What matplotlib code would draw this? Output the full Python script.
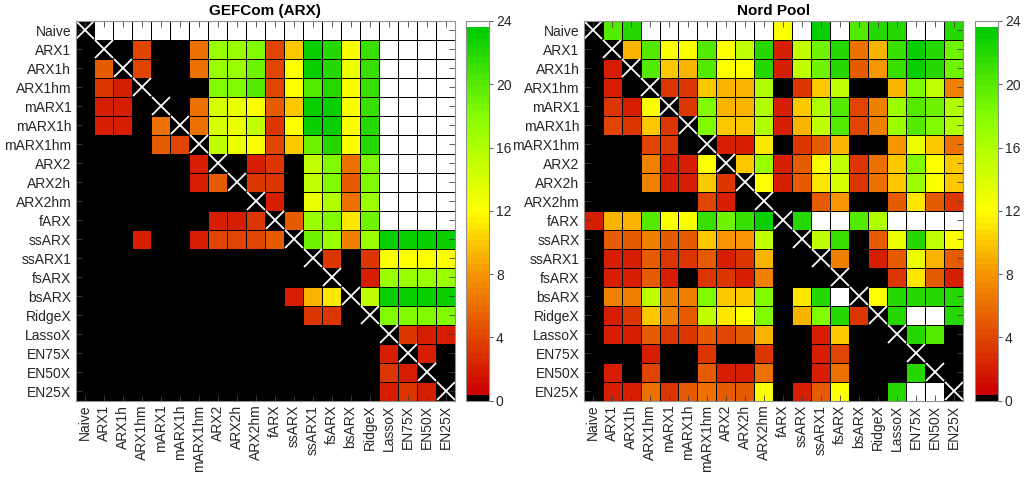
import numpy as np
import matplotlib
matplotlib.use("Agg")
import matplotlib.pyplot as plt
from matplotlib.colors import ListedColormap, Normalize

plt.rcParams['font.family'] = ['Liberation Sans', 'DejaVu Sans']

models = ["Naive", "ARX1", "ARX1h", "ARX1hm", "mARX1", "mARX1h", "mARX1hm",
          "ARX2", "ARX2h", "ARX2hm", "fARX", "ssARX", "ssARX1", "fsARX",
          "bsARX", "RidgeX", "LassoX", "EN75X", "EN50X", "EN25X"]

# number of hours (0-24) in which row model significantly outperforms column model
# diagonal entries are -1 (marked with X)
X = -1
gefcom = [
    [X, 24, 24, 24, 24, 24, 24, 24, 24, 24, 24, 24, 24, 24, 24, 24, 24, 24, 24, 24],
    [0, X, 0, 4, 0, 0, 6, 17, 17, 18, 4, 10, 23, 22, 12, 21, 24, 24, 24, 24],
    [0, 5, X, 4, 0, 0, 6, 17, 17, 19, 4, 12, 23, 22, 13, 21, 24, 24, 24, 24],
    [0, 3, 2, X, 0, 0, 0, 18, 18, 20, 4, 12, 20, 22, 12, 21, 24, 24, 24, 24],
    [0, 2, 2, 0, X, 0, 6, 14, 13, 12, 5, 10, 23, 23, 12, 21, 24, 24, 24, 24],
    [0, 2, 2, 0, 6, X, 6, 14, 13, 15, 3, 12, 23, 23, 12, 22, 24, 24, 24, 24],
    [0, 0, 0, 0, 5, 4, X, 15, 13, 12, 4, 10, 19, 22, 12, 22, 24, 24, 24, 24],
    [0, 0, 0, 0, 0, 0, 2, X, 0, 2, 3, 0, 15, 18, 6, 18, 24, 24, 24, 24],
    [0, 0, 0, 0, 0, 0, 2, 5, X, 3, 3, 0, 15, 18, 5, 18, 24, 24, 24, 24],
    [0, 0, 0, 0, 0, 0, 0, 0, 0, X, 2, 0, 13, 16, 6, 17, 24, 24, 24, 24],
    [0, 0, 0, 0, 0, 0, 0, 2, 2, 3, X, 5, 17, 18, 11, 19, 24, 24, 24, 24],
    [0, 0, 0, 2, 0, 0, 2, 4, 4, 4, 5, X, 19, 17, 7, 17, 23, 23, 23, 23],
    [0, 0, 0, 0, 0, 0, 0, 0, 0, 0, 0, 0, X, 3, 0, 3, 12, 12, 12, 12],
    [0, 0, 0, 0, 0, 0, 0, 0, 0, 0, 0, 0, 0, X, 0, 2, 17, 17, 17, 17],
    [0, 0, 0, 0, 0, 0, 0, 0, 0, 0, 0, 2, 9, 11, X, 15, 23, 23, 23, 23],
    [0, 0, 0, 0, 0, 0, 0, 0, 0, 0, 0, 0, 3, 3, 0, X, 18, 18, 18, 18],
    [0, 0, 0, 0, 0, 0, 0, 0, 0, 0, 0, 0, 0, 0, 0, 0, X, 3, 2, 2],
    [0, 0, 0, 0, 0, 0, 0, 0, 0, 0, 0, 0, 0, 0, 0, 0, 2, X, 2, 0],
    [0, 0, 0, 0, 0, 0, 0, 0, 0, 0, 0, 0, 0, 0, 0, 0, 3, 2, X, 0],
    [0, 0, 0, 0, 0, 0, 0, 0, 0, 0, 0, 0, 0, 0, 0, 0, 2, 3, 2, X],
]

nordpool = [
    [X, 20, 22, 24, 24, 24, 24, 24, 24, 24, 12, 24, 23, 24, 20, 22, 22, 24, 24, 22],
    [0, X, 9, 20, 12, 12, 20, 12, 15, 22, 2, 15, 19, 22, 6, 9, 21, 23, 22, 19],
    [0, 2, X, 20, 10, 9, 20, 12, 12, 22, 2, 15, 19, 22, 5, 8, 21, 23, 22, 19],
    [0, 2, 0, X, 3, 3, 10, 9, 9, 16, 0, 3, 10, 15, 0, 0, 9, 18, 15, 7],
    [0, 3, 2, 12, X, 3, 18, 9, 9, 16, 2, 10, 16, 20, 4, 7, 17, 20, 19, 16],
    [0, 4, 3, 10, 3, X, 18, 10, 10, 16, 2, 9, 15, 20, 4, 7, 17, 20, 18, 16],
    [0, 0, 0, 4, 3, 0, X, 2, 2, 11, 0, 3, 5, 9, 0, 0, 8, 13, 10, 6],
    [0, 0, 0, 7, 2, 2, 12, X, 10, 17, 2, 5, 12, 15, 3, 6, 10, 18, 12, 10],
    [0, 0, 0, 7, 2, 2, 10, 3, X, 12, 2, 5, 11, 14, 3, 6, 10, 17, 12, 10],
    [0, 0, 0, 0, 0, 0, 4, 2, 0, X, 0, 0, 5, 8, 0, 0, 5, 11, 5, 3],
    [2, 9, 9, 20, 12, 12, 21, 19, 21, 23, X, 22, 24, 24, 20, 16, 24, 24, 24, 24],
    [0, 5, 5, 7, 5, 5, 10, 8, 8, 15, 0, X, 15, 21, 0, 5, 13, 22, 15, 12],
    [0, 2, 2, 5, 3, 3, 5, 2, 3, 9, 0, 0, X, 7, 0, 2, 5, 13, 9, 5],
    [0, 2, 2, 5, 2, 0, 3, 3, 2, 7, 0, 0, 0, X, 0, 0, 3, 11, 5, 2],
    [0, 7, 7, 15, 7, 7, 18, 10, 10, 18, 0, 11, 22, 24, X, 12, 22, 22, 22, 22],
    [0, 2, 3, 10, 7, 5, 15, 11, 12, 18, 0, 9, 18, 22, 3, X, 22, 24, 24, 22],
    [0, 2, 2, 5, 3, 3, 5, 4, 5, 9, 0, 0, 2, 10, 0, 0, X, 22, 20, 0],
    [0, 0, 0, 2, 0, 0, 3, 0, 0, 3, 0, 0, 2, 4, 0, 0, 0, X, 0, 0],
    [0, 2, 0, 4, 0, 0, 5, 2, 2, 6, 0, 0, 2, 6, 0, 0, 0, 22, X, 0],
    [0, 2, 2, 6, 3, 5, 6, 5, 5, 12, 0, 2, 5, 12, 0, 0, 22, 24, 24, X],
]

titles = ["GEFCom (ARX)", "Nord Pool"]
cbar_ticks = [0, 4, 8, 12, 16, 20, 24]

# ---- colormap: 64 levels, black at 0, white at 24, red-yellow-green between
ncol = 64
anchors_v = np.array([0.0, 8.0, 12.0, 18.0, 24.0])
anchors_c = np.array([[0.80, 0.00, 0.0],
                      [0.97, 0.60, 0.0],
                      [1.00, 1.00, 0.0],
                      [0.55, 1.00, 0.0],
                      [0.00, 0.80, 0.0]])
vals = np.linspace(0, 24, ncol - 2)
cols = np.column_stack([np.interp(vals, anchors_v, anchors_c[:, k]) for k in range(3)])
cols = np.vstack([[0, 0, 0], cols, [1, 1, 1]])
cmap = ListedColormap(cols)
norm = Normalize(vmin=0, vmax=24)

W, H = 1024, 479
fig = plt.figure(figsize=(W / 100, H / 100), dpi=100)

panels = [
    dict(data=gefcom, ax=(75.5, 21, 379.5, 379.5), cax=(466, 21, 23, 379.5)),
    dict(data=nordpool, ax=(583.6, 21, 379.5, 379.5), cax=(975, 21, 23, 379.5)),
]

def fr(x, y, w, h):
    return [x / W, 1 - (y + h) / H, w / W, h / H]

n = len(models)
for p, title in zip(panels, titles):
    M = np.array(p["data"], dtype=float)
    diag = M < 0
    M[diag] = 0
    ax = fig.add_axes(fr(*p["ax"]))
    edges = np.arange(n + 1)
    mesh = ax.pcolormesh(edges, edges, M, cmap=cmap, norm=norm,
                         edgecolors='black', linewidth=0.7)
    idx = np.arange(n)
    ax.plot(idx[np.diag(diag)] + 0.5, idx[np.diag(diag)] + 0.5, linestyle='none',
            marker='x', color='white', markersize=13, markeredgewidth=1.3)
    ax.set_xlim(0, n)
    ax.set_ylim(n, 0)
    ax.set_xticks(idx + 0.5)
    ax.set_yticks(idx + 0.5)
    ax.set_xticklabels(models, rotation=90, fontsize=10, color='#262626')
    ax.set_yticklabels(models, fontsize=10, color='#262626')
    ax.tick_params(direction='in', length=4, width=0.6, color='#404040',
                   top=True, right=True, pad=3)
    for s in ax.spines.values():
        s.set_color('#909090')
        s.set_linewidth(0.8)
    ax.set_title(title, fontsize=11, fontweight='bold', pad=4)

    cax = fig.add_axes(fr(*p["cax"]))
    cb = fig.colorbar(mesh, cax=cax, ticks=cbar_ticks)
    cb.outline.set_edgecolor('#909090')
    cb.outline.set_linewidth(0.8)
    cax.tick_params(direction='out', length=3, width=0.6, color='#404040',
                    labelsize=10, labelcolor='#262626', pad=2)

fig.savefig("out.png", dpi=100)
